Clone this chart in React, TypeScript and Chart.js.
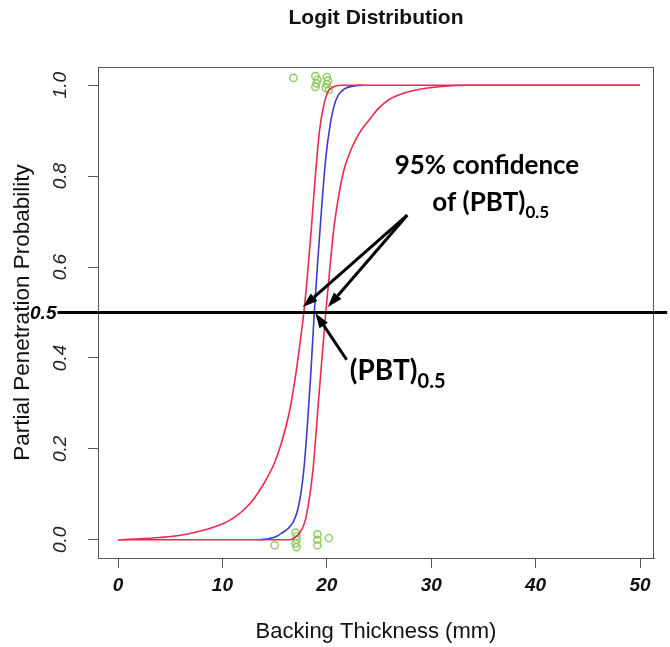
import React, { useEffect, useRef } from "react";
import { Chart, registerables } from "chart.js";
Chart.register(...registerables);

// ---- data ----
const X_TICKS = [0, 10, 20, 30, 40, 50];
const Y_TICKS = [0, 0.2, 0.4, 0.6, 0.8, 1.0];
const Y_TICK_LABELS = ["0.0", "0.2", "0.4", "0.6", "0.8", "1.0"];
const REF_LEVEL = 0.5;
const REF_LABEL = "0.5";

// fitted logit curve (blue)
const CENTER_X = [13.6, 14.5, 15.2, 15.7, 16.3, 16.8, 17.2, 17.5, 17.8, 18.1, 18.45, 18.8, 19.15, 19.5, 19.9, 20.3, 20.7, 21.1, 21.7, 22.5, 23.5];
const CENTER_P = [0.0, 0.003, 0.008, 0.015, 0.025, 0.04, 0.065, 0.1, 0.155, 0.24, 0.36, 0.5, 0.62, 0.73, 0.84, 0.91, 0.955, 0.978, 0.992, 0.998, 1.0];

// upper confidence curve (left red)
const UPPER_X = [0, 2, 4, 6, 8, 10, 11, 12, 13, 14, 15, 15.8, 16.4, 17.0, 17.5, 17.8, 18.1, 18.5, 18.9, 19.3, 19.7, 20.1, 20.6, 21.3, 25, 30, 40, 50];
const UPPER_P = [0, 0.002, 0.005, 0.01, 0.02, 0.035, 0.047, 0.065, 0.09, 0.125, 0.17, 0.225, 0.28, 0.36, 0.445, 0.5, 0.57, 0.68, 0.8, 0.9, 0.955, 0.985, 0.996, 1.0, 1.0, 1.0, 1.0, 1.0];

// lower confidence curve (right red)
const LOWER_X = [0, 5, 10, 15, 16.5, 17.0, 17.4, 17.9, 18.3, 18.7, 19.15, 19.5, 19.9, 20.3, 20.7, 21.2, 21.6, 22.0, 23.0, 24.1, 25.0, 26.0, 27.3, 28.9, 31.0, 33.4, 36, 40, 50];
const LOWER_P = [0, 0, 0, 0, 0.0, 0.006, 0.015, 0.04, 0.088, 0.16, 0.29, 0.39, 0.5, 0.6, 0.69, 0.765, 0.81, 0.84, 0.89, 0.925, 0.95, 0.969, 0.982, 0.991, 0.997, 1.0, 1.0, 1.0, 1.0];

// observations (jittered 0/1 outcomes)
const OBS_X = [16.8, 18.9, 19.0, 19.1, 18.9, 19.9, 20.0, 20.1, 20.0, 20.2, 15.0, 17.0, 17.1, 17.1, 17.0, 17.1, 19.1, 19.1, 19.1, 20.2];
const OBS_P = [1.016, 0.996, 1.004, 1.012, 1.02, 0.994, 1.002, 1.01, 1.018, 0.99, -0.012, 0.016, 0.008, 0.0, -0.008, -0.016, 0.012, 0.0, -0.012, 0.004];

// annotation arrows (data units)
const ARROW_FROM_X = [27.7, 27.7, 21.9];
const ARROW_FROM_Y = [0.714, 0.714, 0.396];
const ARROW_TO_X = [17.7, 20.1, 18.9];
const ARROW_TO_Y = [0.512, 0.512, 0.499];

// annotation labels (data units, left anchored)
const NOTE_TEXT = ["95% confidence", "of (PBT)", "(PBT)"];
const NOTE_SUB = ["", "0.5", "0.5"];
const NOTE_X = [26.5, 30.1, 22.2];
const NOTE_Y = [0.824, 0.741, 0.371];
const NOTE_SIZE = [26, 26, 28];
const NOTE_SUB_SIZE = [17, 17, 20];

const RED = "#f0284e";
const BLUE = "#3a3ccc";
const GREEN = "#8acb5c";
const AXIS = "#555555";
const SANS = "'Liberation Sans', Arial, sans-serif";
const NOTE_FONT = "Lato, 'Open Sans', sans-serif";

const toPts = (xs: number[], ys: number[]) => xs.map((x, i) => ({ x, y: ys[i] }));

const overlayPlugin = {
  id: "overlay",
  afterDraw(chart: any) {
    const { ctx, chartArea, scales } = chart;
    const xs = scales.x;
    const ys = scales.y;
    ctx.save();
    // frame box
    ctx.strokeStyle = AXIS;
    ctx.lineWidth = 1;
    ctx.strokeRect(chartArea.left + 0.5, chartArea.top + 0.5, chartArea.right - chartArea.left - 1, chartArea.bottom - chartArea.top);

    // rotated y tick labels
    ctx.fillStyle = "#222";
    ctx.font = `italic 19px ${SANS}`;
    ctx.textAlign = "center";
    ctx.textBaseline = "middle";
    Y_TICKS.forEach((v, i) => {
      const py = ys.getPixelForValue(v);
      ctx.save();
      ctx.translate(chartArea.left - 37, py);
      ctx.rotate(-Math.PI / 2);
      ctx.fillText(Y_TICK_LABELS[i], 0, 0);
      ctx.restore();
    });

    // reference level line
    const py5 = ys.getPixelForValue(REF_LEVEL);
    ctx.strokeStyle = "#000";
    ctx.lineWidth = 3;
    ctx.beginPath();
    ctx.moveTo(xs.getPixelForValue(-5.8), py5);
    ctx.lineTo(xs.getPixelForValue(52.6), py5);
    ctx.stroke();
    ctx.fillStyle = "#000";
    ctx.font = `italic bold 19px ${SANS}`;
    ctx.textAlign = "right";
    ctx.textBaseline = "middle";
    ctx.fillText(REF_LABEL, xs.getPixelForValue(-5.9), py5 + 1);

    // arrows
    ARROW_FROM_X.forEach((fx, i) => {
      const x0 = xs.getPixelForValue(fx);
      const y0 = ys.getPixelForValue(ARROW_FROM_Y[i]);
      const x1 = xs.getPixelForValue(ARROW_TO_X[i]);
      const y1 = ys.getPixelForValue(ARROW_TO_Y[i]);
      const ang = Math.atan2(y1 - y0, x1 - x0);
      const hl = 15;
      const hw = 5;
      const bx = x1 - hl * Math.cos(ang);
      const by = y1 - hl * Math.sin(ang);
      ctx.strokeStyle = "#000";
      ctx.lineWidth = 3;
      ctx.beginPath();
      ctx.moveTo(x0, y0);
      ctx.lineTo(bx, by);
      ctx.stroke();
      ctx.beginPath();
      ctx.moveTo(x1, y1);
      ctx.lineTo(bx + hw * Math.sin(ang), by - hw * Math.cos(ang));
      ctx.lineTo(bx - hw * Math.sin(ang), by + hw * Math.cos(ang));
      ctx.closePath();
      ctx.fill();
    });

    // notes
    ctx.textAlign = "left";
    ctx.textBaseline = "middle";
    NOTE_TEXT.forEach((t, i) => {
      const px = xs.getPixelForValue(NOTE_X[i]);
      const py = ys.getPixelForValue(NOTE_Y[i]);
      ctx.font = `bold ${NOTE_SIZE[i]}px ${NOTE_FONT}`;
      ctx.fillText(t, px, py);
      if (NOTE_SUB[i]) {
        const w = ctx.measureText(t).width;
        ctx.font = `bold ${NOTE_SUB_SIZE[i]}px ${NOTE_FONT}`;
        ctx.fillText(NOTE_SUB[i], px + w, py + NOTE_SIZE[i] * 0.36);
      }
    });
    ctx.restore();
  },
};

export default function App() {
  const ref = useRef<HTMLCanvasElement | null>(null);
  useEffect(() => {
    if (!ref.current) return;
    const lineDs = (label: string, xs: number[], ys: number[], color: string) => ({
      label,
      data: toPts(xs, ys),
      borderColor: color,
      borderWidth: 1.6,
      pointRadius: 0,
      fill: false,
      cubicInterpolationMode: "monotone" as const,
    });
    const chart = new Chart(ref.current, {
      type: "line",
      data: {
        datasets: [
          lineDs("Upper", UPPER_X, UPPER_P, RED),
          lineDs("Lower", LOWER_X, LOWER_P, RED),
          lineDs("Fit", CENTER_X, CENTER_P, BLUE),
          {
            label: "Observed",
            data: toPts(OBS_X, OBS_P),
            showLine: false,
            pointRadius: 3.6,
            pointBorderWidth: 1.4,
            pointBorderColor: GREEN,
            pointBackgroundColor: "rgba(0,0,0,0)",
            borderColor: GREEN,
          } as any,
        ],
      },
      options: {
        animation: false,
        responsive: false,
        devicePixelRatio: 1,
        layout: { padding: { left: 0, right: 16, top: 0, bottom: 0 } },
        plugins: {
          legend: { display: false },
          tooltip: { enabled: false },
          title: {
            display: true,
            text: "Logit Distribution",
            fullSize: false,
            color: "#111",
            font: { family: SANS, size: 21, weight: "bold" },
            padding: { top: 6, bottom: 35.8 },
          },
        },
        scales: {
          x: {
            type: "linear",
            min: -1.92,
            max: 51.34,
            afterBuildTicks: (s: any) => {
              s.ticks = X_TICKS.map((v) => ({ value: v }));
            },
            afterFit: (s: any) => {
              s.height = 89;
            },
            ticks: {
              color: "#111",
              font: { family: SANS, size: 19, style: "italic", weight: "bold" },
              padding: 6,
              maxRotation: 0,
              autoSkip: false,
            },
            grid: { display: true, drawOnChartArea: false, drawTicks: true, tickLength: 10, color: AXIS },
            border: { display: true, color: AXIS },
            title: {
              display: true,
              text: "Backing Thickness (mm)",
              color: "#111",
              font: { family: SANS, size: 22 },
              padding: { top: 0, bottom: 2 },
            },
          },
          y: {
            type: "linear",
            min: -0.04,
            max: 1.04,
            afterBuildTicks: (s: any) => {
              s.ticks = Y_TICKS.map((v) => ({ value: v }));
            },
            afterFit: (s: any) => {
              s.width = 98;
            },
            ticks: { display: false },
            grid: { display: true, drawOnChartArea: false, drawTicks: true, tickLength: 10, color: AXIS },
            border: { display: true, color: AXIS },
            title: {
              display: true,
              text: "Partial Penetration Probability",
              color: "#111",
              font: { family: SANS, size: 22.5 },
              padding: { top: 9, bottom: 0 },
            },
          },
        },
      } as any,
      plugins: [overlayPlugin],
    });
    return () => chart.destroy();
  }, []);
  return (
    <div style={{ position: "fixed", left: 0, top: 0, width: 670, height: 647, background: "#fff" }}>
      <canvas ref={ref} width={670} height={647} style={{ display: "block" }} />
    </div>
  );
}
